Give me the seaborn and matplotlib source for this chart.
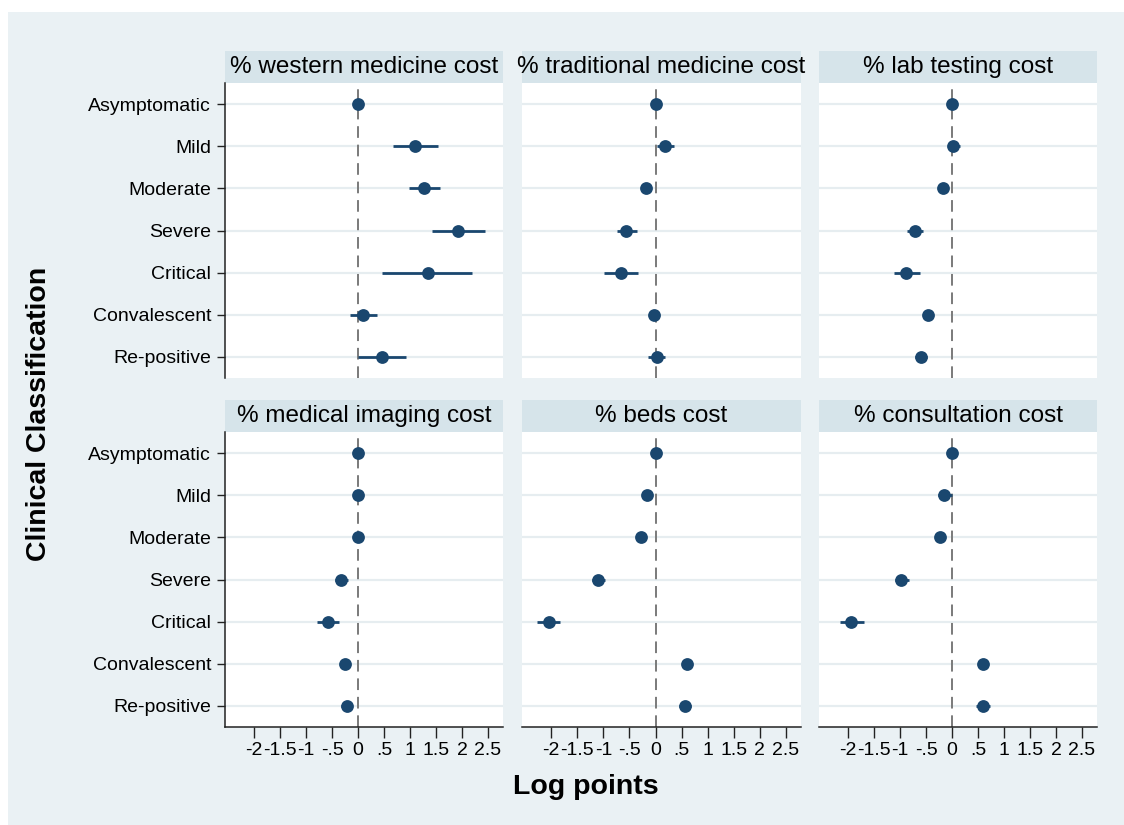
import matplotlib
matplotlib.use("Agg")
import matplotlib.pyplot as plt
from matplotlib.patches import Rectangle
import seaborn as sns
import pandas as pd

# ---- data: coefficient estimates (log points) with 95% CI ----
categories = ["Asymptomatic", "Mild", "Moderate", "Severe", "Critical",
              "Convalescent", "Re-positive"]
panels = ["% western medicine cost", "% traditional medicine cost",
          "% lab testing cost", "% medical imaging cost",
          "% beds cost", "% consultation cost"]

western_coef = [0, 1.10, 1.27, 1.93, 1.34, 0.10, 0.46]
western_lo = [0, 0.68, 0.98, 1.42, 0.47, -0.15, 0.00]
western_hi = [0, 1.54, 1.57, 2.44, 2.20, 0.36, 0.92]

traditional_coef = [0, 0.18, -0.18, -0.56, -0.67, -0.02, 0.02]
traditional_lo = [0, 0.02, -0.26, -0.74, -0.99, -0.06, -0.14]
traditional_hi = [0, 0.35, -0.08, -0.35, -0.33, 0.02, 0.18]

lab_coef = [0, 0.02, -0.18, -0.71, -0.88, -0.46, -0.60]
lab_lo = [0, -0.07, -0.23, -0.87, -1.12, -0.50, -0.71]
lab_hi = [0, 0.15, -0.13, -0.55, -0.62, -0.42, -0.49]

imaging_coef = [0, -0.01, 0.00, -0.32, -0.58, -0.26, -0.22]
imaging_lo = [0, -0.03, -0.02, -0.45, -0.78, -0.29, -0.32]
imaging_hi = [0, 0.01, 0.02, -0.20, -0.37, -0.23, -0.13]

beds_coef = [0, -0.17, -0.28, -1.10, -2.05, 0.60, 0.57]
beds_lo = [0, -0.22, -0.32, -1.21, -2.27, 0.56, 0.46]
beds_hi = [0, -0.12, -0.24, -0.97, -1.83, 0.64, 0.68]

consult_coef = [0, -0.15, -0.24, -0.98, -1.94, 0.59, 0.59]
consult_lo = [0, -0.27, -0.28, -1.10, -2.16, 0.55, 0.47]
consult_hi = [0, -0.01, -0.20, -0.83, -1.70, 0.63, 0.73]

x_ticks = [-2, -1.5, -1, -0.5, 0, 0.5, 1, 1.5, 2, 2.5]
x_tick_labels = ["-2", "-1.5", "-1", "-.5", "0", ".5", "1", "1.5", "2", "2.5"]

coefs = [western_coef, traditional_coef, lab_coef, imaging_coef, beds_coef, consult_coef]
lows = [western_lo, traditional_lo, lab_lo, imaging_lo, beds_lo, consult_lo]
highs = [western_hi, traditional_hi, lab_hi, imaging_hi, beds_hi, consult_hi]

rows = []
for name, c, lo, hi in zip(panels, coefs, lows, highs):
    for cat, ci, l, h in zip(categories, c, lo, hi):
        rows.append({"panel": name, "cls": cat, "coef": ci, "lo": l, "hi": h})
df = pd.DataFrame(rows)
df["pos"] = df["cls"].map({c: i for i, c in enumerate(categories)})

# ---- style ----
sns.set_theme(style="white")
plt.rcParams["font.family"] = ["Liberation Sans", "DejaVu Sans"]
plt.rcParams["text.color"] = "black"
plt.rcParams["xtick.color"] = "black"
plt.rcParams["ytick.color"] = "black"

BG = "#eaf1f4"
STRIP = "#d6e4ea"
GRID = "#e6edf0"
NAVY = "#1a476f"
DASH = "#7a7a7a"
AXIS = "#222222"

W, H = 1124, 825
fig = plt.figure(figsize=(W / 100, H / 100), dpi=100, facecolor=BG)
# thin white margin along the top and left edges
fig.patches.append(Rectangle((0, 1 - 12 / H), 1, 12 / H, transform=fig.transFigure,
                             fc="white", ec="none", zorder=0))
fig.patches.append(Rectangle((0, 0), 8 / W, 1, transform=fig.transFigure,
                             fc="white", ec="none", zorder=0))

col_px = [(225, 503), (522, 801), (819, 1097)]
row_px = [(83, 378), (432, 727)]
strip_h = 32

for k, name in enumerate(panels):
    r, c = divmod(k, 3)
    x0, x1 = col_px[c]
    y0, y1 = row_px[r]
    ax = fig.add_axes([x0 / W, 1 - y1 / H, (x1 - x0) / W, (y1 - y0) / H])
    ax.set_facecolor("white")
    sub = df[df["panel"] == name]

    ax.hlines(sub["pos"], sub["lo"], sub["hi"], color=NAVY, lw=2.0, zorder=3)
    sns.scatterplot(data=sub, x="coef", y="pos", ax=ax, color=NAVY, s=85,
                    edgecolor=NAVY, linewidth=0, zorder=4, legend=False)
    ax.axvline(0, color=DASH, lw=1.4, ls=(0, (6, 3.5)), zorder=2)

    ax.set_xlim(-2.56, 2.79)
    ax.set_ylim(6.5, -0.5)
    ax.set_yticks(range(len(categories)))
    ax.grid(axis="y", color=GRID, lw=1.6, zorder=1)
    ax.grid(axis="x", visible=False)
    ax.set_xlabel("")
    ax.set_ylabel("")

    for s in ax.spines.values():
        s.set_visible(False)

    if c == 0:
        ax.spines["left"].set_visible(True)
        ax.spines["left"].set_color(AXIS)
        ax.spines["left"].set_linewidth(1.1)
        ax.set_yticklabels(categories, fontsize=14, color="black")
        ax.tick_params(axis="y", length=6, width=1.0, color=AXIS, pad=4, left=True)
    else:
        ax.set_yticklabels([])
        ax.tick_params(axis="y", length=0)

    ax.set_xticks(x_ticks)
    if r == 1:
        ax.spines["bottom"].set_visible(True)
        ax.spines["bottom"].set_color(AXIS)
        ax.spines["bottom"].set_linewidth(1.1)
        ax.set_xticklabels(x_tick_labels, fontsize=14, color="black")
        ax.tick_params(axis="x", length=8, width=1.0, color=AXIS, pad=3, bottom=True)
    else:
        ax.set_xticklabels([])
        ax.tick_params(axis="x", length=0)

    # facet title strip
    hfrac = strip_h / (y1 - y0)
    ax.add_patch(Rectangle((0, 1), 1, hfrac, transform=ax.transAxes,
                           fc=STRIP, ec="none", clip_on=False, zorder=0))
    ax.text(0.5, 1 + hfrac / 2, name, transform=ax.transAxes, ha="center",
            va="center", fontsize=17.5, color="black")

fig.text(39 / W, 1 - 414 / H, "Clinical Classification", rotation=90,
         fontsize=20.5, fontweight="bold", ha="center", va="center", color="black")
fig.text(586 / W, 1 - 787 / H, "Log points", fontsize=20.5, fontweight="bold",
         ha="center", va="center", color="black")

fig.savefig("out.png", dpi=100, facecolor=BG)
